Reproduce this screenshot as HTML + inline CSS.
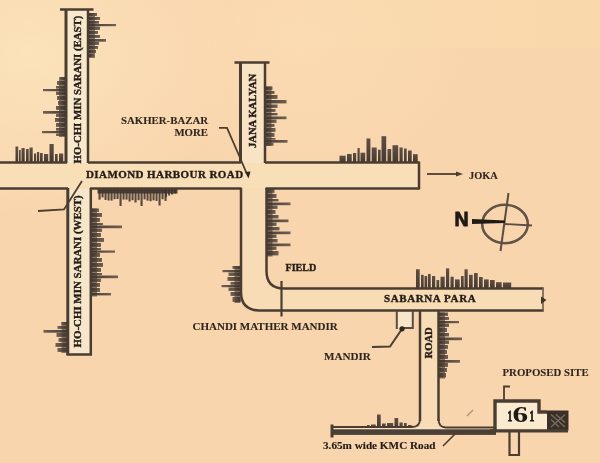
<!DOCTYPE html>
<html><head><meta charset="utf-8"><style>
html,body{margin:0;padding:0;}
body{width:600px;height:463px;overflow:hidden;background:#f6d3a9;}
svg{display:block;}
</style></head><body>
<svg width="600" height="463" viewBox="0 0 600 463">
<defs>
<filter id="bl" x="-5%" y="-5%" width="110%" height="110%"><feGaussianBlur stdDeviation="0.7"/></filter>
<linearGradient id="gr" x1="0" y1="0" x2="1" y2="0"><stop offset="0" stop-color="#3a3029"/><stop offset="0.5" stop-color="#4e423a"/><stop offset="1" stop-color="#63564b"/></linearGradient>
<linearGradient id="gl" x1="1" y1="0" x2="0" y2="0"><stop offset="0" stop-color="#3a3029"/><stop offset="0.5" stop-color="#4e423a"/><stop offset="1" stop-color="#63564b"/></linearGradient>
<linearGradient id="gv" x1="0" y1="1" x2="0" y2="0"><stop offset="0" stop-color="#3a3029"/><stop offset="1" stop-color="#554840"/></linearGradient>
<linearGradient id="topband" x1="0" y1="0" x2="1" y2="0"><stop offset="0.35" stop-color="#fadcb0" stop-opacity="0"/><stop offset="0.6" stop-color="#fadcb0" stop-opacity="0.7"/><stop offset="1" stop-color="#f9d9ab" stop-opacity="0.8"/></linearGradient>
<filter id="bl2"><feGaussianBlur stdDeviation="0.35"/></filter>
<radialGradient id="rg1" cx="0.05" cy="0.12" r="0.35"><stop offset="0" stop-color="#fbe3ba" stop-opacity="1"/><stop offset="1" stop-color="#fbe3ba" stop-opacity="0"/></radialGradient>
<radialGradient id="rg2" cx="0.5" cy="0.1" r="0.3"><stop offset="0" stop-color="#fbdcb3" stop-opacity="0.8"/><stop offset="1" stop-color="#fbdcb3" stop-opacity="0"/></radialGradient>
</defs>
<rect width="600" height="463" fill="#f9d5ad"/>
<rect width="600" height="463" fill="url(#rg1)"/>
<rect width="600" height="463" fill="url(#rg2)"/>
<rect x="0" y="0" width="600" height="48" fill="url(#topband)"/>
<rect x="0" y="163" width="419" height="26" fill="#f9dfb8"/>
<rect x="66" y="10" width="22" height="153" fill="#f8e8cc"/>
<rect x="68" y="189" width="22" height="165" fill="#f7e6c9"/>
<rect x="241" y="63" width="24" height="100" fill="#f8e4c4"/>
<path d="M241,188 L241,292 Q241,310 259,310 L543,310 L543,289 L284,289 Q266,289 266,271 L266,188 Z" stroke="#4a3e33" stroke-width="0" fill="#f8dcb5" />
<rect x="420" y="310" width="18" height="118" fill="#f8dcb5"/>
<rect x="331" y="427" width="165" height="3" fill="#f6e0be"/>
<g filter="url(#bl)">
<rect x="89.0" y="13.0" width="6" height="45.0" fill="#4a3f37" opacity="0.68"/>
<rect x="89.0" y="13.0" width="8.0" height="2.9" fill="url(#gr)" opacity="0.92"/>
<rect x="89.0" y="17.0" width="11.0" height="2.9" fill="url(#gr)" opacity="0.92"/>
<rect x="89.0" y="21.0" width="10.0" height="2.7" fill="url(#gr)" opacity="0.92"/>
<rect x="89.0" y="24.0" width="27.0" height="2.2" fill="url(#gr)" opacity="0.92"/>
<rect x="89.0" y="26.5" width="11.0" height="3.4" fill="url(#gr)" opacity="0.92"/>
<rect x="89.0" y="31.0" width="9.0" height="2.9" fill="url(#gr)" opacity="0.92"/>
<rect x="89.0" y="35.0" width="11.0" height="2.9" fill="url(#gr)" opacity="0.92"/>
<rect x="89.0" y="39.0" width="17.0" height="2.7" fill="url(#gr)" opacity="0.92"/>
<rect x="89.0" y="42.0" width="10.0" height="2.9" fill="url(#gr)" opacity="0.92"/>
<rect x="89.0" y="46.0" width="9.0" height="2.9" fill="url(#gr)" opacity="0.92"/>
<rect x="89.0" y="50.0" width="7.0" height="2.9" fill="url(#gr)" opacity="0.92"/>
<rect x="89.0" y="54.0" width="5.0" height="2.9" fill="url(#gr)" opacity="0.92"/>
<rect x="59.0" y="77.0" width="6" height="60.0" fill="#4a3f37" opacity="0.68"/>
<rect x="60.0" y="77.0" width="5.0" height="2.9" fill="url(#gl)" opacity="0.92"/>
<rect x="57.0" y="81.0" width="8.0" height="3.9" fill="url(#gl)" opacity="0.92"/>
<rect x="56.0" y="86.0" width="9.0" height="2.7" fill="url(#gl)" opacity="0.92"/>
<rect x="43.0" y="89.0" width="22.0" height="2.2" fill="url(#gl)" opacity="0.92"/>
<rect x="56.0" y="91.5" width="9.0" height="3.4" fill="url(#gl)" opacity="0.92"/>
<rect x="57.0" y="96.0" width="8.0" height="3.9" fill="url(#gl)" opacity="0.92"/>
<rect x="58.0" y="101.0" width="7.0" height="3.9" fill="url(#gl)" opacity="0.92"/>
<rect x="56.0" y="106.0" width="9.0" height="3.9" fill="url(#gl)" opacity="0.92"/>
<rect x="43.0" y="111.0" width="22.0" height="2.7" fill="url(#gl)" opacity="0.92"/>
<rect x="56.0" y="114.0" width="9.0" height="2.9" fill="url(#gl)" opacity="0.92"/>
<rect x="55.0" y="118.0" width="10.0" height="3.9" fill="url(#gl)" opacity="0.92"/>
<rect x="56.0" y="123.0" width="9.0" height="3.9" fill="url(#gl)" opacity="0.92"/>
<rect x="56.0" y="128.0" width="9.0" height="2.7" fill="url(#gl)" opacity="0.92"/>
<rect x="42.0" y="131.0" width="23.0" height="2.2" fill="url(#gl)" opacity="0.92"/>
<rect x="56.0" y="133.5" width="9.0" height="2.4" fill="url(#gl)" opacity="0.92"/>
<rect x="15.5" y="146.5" width="2.7" height="15.5" fill="url(#gv)" opacity="0.95"/>
<rect x="19.0" y="150.0" width="1.7" height="12.0" fill="url(#gv)" opacity="0.95"/>
<rect x="21.5" y="148.0" width="3.2" height="14.0" fill="url(#gv)" opacity="0.95"/>
<rect x="26.0" y="149.0" width="2.7" height="13.0" fill="url(#gv)" opacity="0.95"/>
<rect x="29.5" y="147.5" width="3.2" height="14.5" fill="url(#gv)" opacity="0.95"/>
<rect x="34.0" y="153.5" width="2.2" height="8.5" fill="url(#gv)" opacity="0.95"/>
<rect x="37.0" y="152.0" width="2.2" height="10.0" fill="url(#gv)" opacity="0.95"/>
<rect x="40.0" y="153.0" width="2.7" height="9.0" fill="url(#gv)" opacity="0.95"/>
<rect x="44.0" y="154.0" width="4.2" height="8.0" fill="url(#gv)" opacity="0.95"/>
<rect x="49.5" y="144.0" width="4.2" height="18.0" fill="url(#gv)" opacity="0.95"/>
<rect x="55.0" y="154.0" width="2.7" height="8.0" fill="url(#gv)" opacity="0.95"/>
<rect x="59.0" y="153.5" width="4.2" height="8.5" fill="url(#gv)" opacity="0.95"/>
<rect x="265.5" y="86.5" width="6" height="59.5" fill="#4a3f37" opacity="0.68"/>
<rect x="265.5" y="86.5" width="7.0" height="3.4" fill="url(#gr)" opacity="0.92"/>
<rect x="265.5" y="91.0" width="9.0" height="2.9" fill="url(#gr)" opacity="0.92"/>
<rect x="265.5" y="95.0" width="12.0" height="3.9" fill="url(#gr)" opacity="0.92"/>
<rect x="265.5" y="100.0" width="21.0" height="3.4" fill="url(#gr)" opacity="0.92"/>
<rect x="265.5" y="104.5" width="12.0" height="3.4" fill="url(#gr)" opacity="0.92"/>
<rect x="265.5" y="109.0" width="10.0" height="2.9" fill="url(#gr)" opacity="0.92"/>
<rect x="265.5" y="113.0" width="12.0" height="2.4" fill="url(#gr)" opacity="0.92"/>
<rect x="265.5" y="116.5" width="21.0" height="2.7" fill="url(#gr)" opacity="0.92"/>
<rect x="265.5" y="119.5" width="11.0" height="3.4" fill="url(#gr)" opacity="0.92"/>
<rect x="265.5" y="124.0" width="9.0" height="2.9" fill="url(#gr)" opacity="0.92"/>
<rect x="265.5" y="128.0" width="10.0" height="3.9" fill="url(#gr)" opacity="0.92"/>
<rect x="265.5" y="133.0" width="9.0" height="3.9" fill="url(#gr)" opacity="0.92"/>
<rect x="265.5" y="138.0" width="10.0" height="1.7" fill="url(#gr)" opacity="0.92"/>
<rect x="265.5" y="140.0" width="22.0" height="2.7" fill="url(#gr)" opacity="0.92"/>
<rect x="265.5" y="143.0" width="8.0" height="2.7" fill="url(#gr)" opacity="0.92"/>
<rect x="339.5" y="155.7" width="6.2" height="6.3" fill="url(#gv)" opacity="0.95"/>
<rect x="347.0" y="154.0" width="4.7" height="8.0" fill="url(#gv)" opacity="0.95"/>
<rect x="353.0" y="153.0" width="3.2" height="9.0" fill="url(#gv)" opacity="0.95"/>
<rect x="357.5" y="148.0" width="2.2" height="14.0" fill="url(#gv)" opacity="0.95"/>
<rect x="360.5" y="152.7" width="4.7" height="9.3" fill="url(#gv)" opacity="0.95"/>
<rect x="366.5" y="138.5" width="3.9" height="23.5" fill="url(#gv)" opacity="0.95"/>
<rect x="371.7" y="147.5" width="5.0" height="14.5" fill="url(#gv)" opacity="0.95"/>
<rect x="378.0" y="149.7" width="2.7" height="12.3" fill="url(#gv)" opacity="0.95"/>
<rect x="381.5" y="136.2" width="4.7" height="25.8" fill="url(#gv)" opacity="0.95"/>
<rect x="387.5" y="149.0" width="3.7" height="13.0" fill="url(#gv)" opacity="0.95"/>
<rect x="392.5" y="145.2" width="5.7" height="16.8" fill="url(#gv)" opacity="0.95"/>
<rect x="399.5" y="147.5" width="3.2" height="14.5" fill="url(#gv)" opacity="0.95"/>
<rect x="404.0" y="148.5" width="2.7" height="13.5" fill="url(#gv)" opacity="0.95"/>
<rect x="408.0" y="150.5" width="3.7" height="11.5" fill="url(#gv)" opacity="0.95"/>
<rect x="413.0" y="154.2" width="4.7" height="7.8" fill="url(#gv)" opacity="0.95"/>
<rect x="97.5" y="189.0" width="80.0" height="4.5" fill="#3f342c" opacity="0.9"/>
<rect x="98.5" y="189.0" width="2.1" height="10.6" fill="#3f342c" opacity="0.88"/>
<rect x="101.5" y="189.0" width="2.1" height="8.5" fill="#3f342c" opacity="0.88"/>
<rect x="104.5" y="189.0" width="2.1" height="10.9" fill="#3f342c" opacity="0.88"/>
<rect x="107.5" y="189.0" width="2.1" height="11.5" fill="#3f342c" opacity="0.88"/>
<rect x="110.5" y="189.0" width="2.1" height="11.6" fill="#3f342c" opacity="0.88"/>
<rect x="113.5" y="189.0" width="2.1" height="10.2" fill="#3f342c" opacity="0.88"/>
<rect x="116.5" y="189.0" width="2.1" height="10.0" fill="#3f342c" opacity="0.88"/>
<rect x="119.5" y="189.0" width="2.1" height="17.0" fill="#3f342c" opacity="0.88"/>
<rect x="122.5" y="189.0" width="2.1" height="10.6" fill="#3f342c" opacity="0.88"/>
<rect x="125.5" y="189.0" width="2.1" height="10.6" fill="#3f342c" opacity="0.88"/>
<rect x="128.5" y="189.0" width="2.1" height="12.5" fill="#3f342c" opacity="0.88"/>
<rect x="131.5" y="189.0" width="2.1" height="11.2" fill="#3f342c" opacity="0.88"/>
<rect x="134.5" y="189.0" width="2.1" height="13.5" fill="#3f342c" opacity="0.88"/>
<rect x="137.5" y="189.0" width="2.1" height="11.2" fill="#3f342c" opacity="0.88"/>
<rect x="140.5" y="189.0" width="2.1" height="17.0" fill="#3f342c" opacity="0.88"/>
<rect x="143.5" y="189.0" width="2.1" height="10.4" fill="#3f342c" opacity="0.88"/>
<rect x="146.5" y="189.0" width="2.1" height="11.6" fill="#3f342c" opacity="0.88"/>
<rect x="149.5" y="189.0" width="2.1" height="12.2" fill="#3f342c" opacity="0.88"/>
<rect x="152.5" y="189.0" width="2.1" height="11.3" fill="#3f342c" opacity="0.88"/>
<rect x="155.5" y="189.0" width="2.1" height="11.9" fill="#3f342c" opacity="0.88"/>
<rect x="158.5" y="189.0" width="2.1" height="16.5" fill="#3f342c" opacity="0.88"/>
<rect x="161.5" y="189.0" width="2.1" height="10.2" fill="#3f342c" opacity="0.88"/>
<rect x="164.5" y="189.0" width="2.1" height="11.9" fill="#3f342c" opacity="0.88"/>
<rect x="165.0" y="189.0" width="2.1" height="8.0" fill="#3f342c" opacity="0.85"/>
<rect x="168.0" y="189.0" width="2.1" height="6.5" fill="#3f342c" opacity="0.85"/>
<rect x="171.0" y="189.0" width="2.1" height="5.5" fill="#3f342c" opacity="0.85"/>
<rect x="174.0" y="189.0" width="2.1" height="4.5" fill="#3f342c" opacity="0.85"/>
<rect x="91.0" y="208.5" width="6" height="88.0" fill="#4a3f37" opacity="0.68"/>
<rect x="91.0" y="208.5" width="8.0" height="3.4" fill="url(#gr)" opacity="0.92"/>
<rect x="91.0" y="213.0" width="11.0" height="3.9" fill="url(#gr)" opacity="0.92"/>
<rect x="91.0" y="218.0" width="9.0" height="3.9" fill="url(#gr)" opacity="0.92"/>
<rect x="91.0" y="223.0" width="12.0" height="2.2" fill="url(#gr)" opacity="0.92"/>
<rect x="91.0" y="225.5" width="31.0" height="2.7" fill="url(#gr)" opacity="0.92"/>
<rect x="91.0" y="228.5" width="11.0" height="3.4" fill="url(#gr)" opacity="0.92"/>
<rect x="91.0" y="233.0" width="10.0" height="3.9" fill="url(#gr)" opacity="0.92"/>
<rect x="91.0" y="238.0" width="13.0" height="3.9" fill="url(#gr)" opacity="0.92"/>
<rect x="91.0" y="243.0" width="10.0" height="3.9" fill="url(#gr)" opacity="0.92"/>
<rect x="91.0" y="248.0" width="10.0" height="2.2" fill="url(#gr)" opacity="0.92"/>
<rect x="91.0" y="250.5" width="24.0" height="2.2" fill="url(#gr)" opacity="0.92"/>
<rect x="91.0" y="253.0" width="9.0" height="3.9" fill="url(#gr)" opacity="0.92"/>
<rect x="91.0" y="258.0" width="11.0" height="3.9" fill="url(#gr)" opacity="0.92"/>
<rect x="91.0" y="263.0" width="12.0" height="3.9" fill="url(#gr)" opacity="0.92"/>
<rect x="91.0" y="268.0" width="10.0" height="3.9" fill="url(#gr)" opacity="0.92"/>
<rect x="91.0" y="273.0" width="11.0" height="2.2" fill="url(#gr)" opacity="0.92"/>
<rect x="91.0" y="275.5" width="27.0" height="2.7" fill="url(#gr)" opacity="0.92"/>
<rect x="91.0" y="278.5" width="10.0" height="3.4" fill="url(#gr)" opacity="0.92"/>
<rect x="91.0" y="283.0" width="9.0" height="3.9" fill="url(#gr)" opacity="0.92"/>
<rect x="91.0" y="288.0" width="9.0" height="3.9" fill="url(#gr)" opacity="0.92"/>
<rect x="91.0" y="293.0" width="20.0" height="2.4" fill="url(#gr)" opacity="0.92"/>
<rect x="61.5" y="322.0" width="6" height="31.0" fill="#4a3f37" opacity="0.68"/>
<rect x="61.5" y="322.0" width="6.0" height="2.9" fill="url(#gl)" opacity="0.92"/>
<rect x="57.5" y="326.0" width="10.0" height="2.9" fill="url(#gl)" opacity="0.92"/>
<rect x="43.5" y="330.0" width="24.0" height="2.7" fill="url(#gl)" opacity="0.92"/>
<rect x="56.5" y="333.0" width="11.0" height="3.9" fill="url(#gl)" opacity="0.92"/>
<rect x="58.5" y="338.0" width="9.0" height="3.9" fill="url(#gl)" opacity="0.92"/>
<rect x="55.5" y="343.0" width="12.0" height="3.9" fill="url(#gl)" opacity="0.92"/>
<rect x="57.5" y="348.0" width="10.0" height="3.9" fill="url(#gl)" opacity="0.92"/>
<rect x="266.5" y="189.0" width="6" height="67.5" fill="#4a3f37" opacity="0.68"/>
<rect x="266.5" y="189.0" width="8.0" height="3.9" fill="url(#gr)" opacity="0.92"/>
<rect x="266.5" y="194.0" width="10.0" height="3.9" fill="url(#gr)" opacity="0.92"/>
<rect x="266.5" y="199.0" width="12.0" height="2.4" fill="url(#gr)" opacity="0.92"/>
<rect x="266.5" y="202.5" width="24.0" height="2.7" fill="url(#gr)" opacity="0.92"/>
<rect x="266.5" y="205.5" width="11.0" height="3.4" fill="url(#gr)" opacity="0.92"/>
<rect x="266.5" y="210.0" width="9.0" height="3.9" fill="url(#gr)" opacity="0.92"/>
<rect x="266.5" y="215.0" width="12.0" height="3.4" fill="url(#gr)" opacity="0.92"/>
<rect x="266.5" y="219.5" width="22.0" height="2.7" fill="url(#gr)" opacity="0.92"/>
<rect x="266.5" y="222.5" width="10.0" height="3.4" fill="url(#gr)" opacity="0.92"/>
<rect x="266.5" y="227.0" width="13.0" height="3.4" fill="url(#gr)" opacity="0.92"/>
<rect x="266.5" y="231.5" width="24.0" height="2.7" fill="url(#gr)" opacity="0.92"/>
<rect x="266.5" y="234.5" width="10.0" height="3.4" fill="url(#gr)" opacity="0.92"/>
<rect x="266.5" y="239.0" width="11.0" height="3.4" fill="url(#gr)" opacity="0.92"/>
<rect x="266.5" y="243.5" width="24.0" height="2.7" fill="url(#gr)" opacity="0.92"/>
<rect x="266.5" y="246.5" width="10.0" height="3.4" fill="url(#gr)" opacity="0.92"/>
<rect x="266.5" y="251.0" width="12.0" height="4.4" fill="url(#gr)" opacity="0.92"/>
<rect x="234.5" y="266.0" width="6" height="37.0" fill="#4a3f37" opacity="0.68"/>
<rect x="232.5" y="266.0" width="8.0" height="2.9" fill="url(#gl)" opacity="0.92"/>
<rect x="222.5" y="270.0" width="18.0" height="2.2" fill="url(#gl)" opacity="0.92"/>
<rect x="228.5" y="272.5" width="12.0" height="3.4" fill="url(#gl)" opacity="0.92"/>
<rect x="227.5" y="277.0" width="13.0" height="3.9" fill="url(#gl)" opacity="0.92"/>
<rect x="230.5" y="282.0" width="10.0" height="2.7" fill="url(#gl)" opacity="0.92"/>
<rect x="221.5" y="285.0" width="19.0" height="2.2" fill="url(#gl)" opacity="0.92"/>
<rect x="228.5" y="287.5" width="12.0" height="3.4" fill="url(#gl)" opacity="0.92"/>
<rect x="230.5" y="292.0" width="10.0" height="3.9" fill="url(#gl)" opacity="0.92"/>
<rect x="232.5" y="297.0" width="8.0" height="4.9" fill="url(#gl)" opacity="0.92"/>
<rect x="416.0" y="269.3" width="3.7" height="19.2" fill="url(#gv)" opacity="0.95"/>
<rect x="421.0" y="274.8" width="2.7" height="13.7" fill="url(#gv)" opacity="0.95"/>
<rect x="424.5" y="276.0" width="2.7" height="12.5" fill="url(#gv)" opacity="0.95"/>
<rect x="428.0" y="274.0" width="2.7" height="14.5" fill="url(#gv)" opacity="0.95"/>
<rect x="432.0" y="276.0" width="3.2" height="12.5" fill="url(#gv)" opacity="0.95"/>
<rect x="436.5" y="280.0" width="2.7" height="8.5" fill="url(#gv)" opacity="0.95"/>
<rect x="440.5" y="276.7" width="4.2" height="11.8" fill="url(#gv)" opacity="0.95"/>
<rect x="446.0" y="268.4" width="3.2" height="20.1" fill="url(#gv)" opacity="0.95"/>
<rect x="450.5" y="276.7" width="3.2" height="11.8" fill="url(#gv)" opacity="0.95"/>
<rect x="455.0" y="279.4" width="4.7" height="9.1" fill="url(#gv)" opacity="0.95"/>
<rect x="461.0" y="276.0" width="2.7" height="12.5" fill="url(#gv)" opacity="0.95"/>
<rect x="464.5" y="269.3" width="3.2" height="19.2" fill="url(#gv)" opacity="0.95"/>
<rect x="469.0" y="274.8" width="3.7" height="13.7" fill="url(#gv)" opacity="0.95"/>
<rect x="474.0" y="273.0" width="3.7" height="15.5" fill="url(#gv)" opacity="0.95"/>
<rect x="479.0" y="277.0" width="3.7" height="11.5" fill="url(#gv)" opacity="0.95"/>
<rect x="484.0" y="279.4" width="4.7" height="9.1" fill="url(#gv)" opacity="0.95"/>
<rect x="490.0" y="280.0" width="4.7" height="8.5" fill="url(#gv)" opacity="0.95"/>
<rect x="496.0" y="282.2" width="5.7" height="6.3" fill="url(#gv)" opacity="0.95"/>
<rect x="503.0" y="282.5" width="8.2" height="6.0" fill="url(#gv)" opacity="0.95"/>
<rect x="439.0" y="312.5" width="6" height="66.0" fill="#4a3f37" opacity="0.68"/>
<rect x="439.0" y="312.5" width="9.0" height="3.4" fill="url(#gr)" opacity="0.92"/>
<rect x="439.0" y="317.0" width="10.0" height="2.9" fill="url(#gr)" opacity="0.92"/>
<rect x="439.0" y="321.0" width="20.0" height="2.2" fill="url(#gr)" opacity="0.92"/>
<rect x="439.0" y="323.5" width="10.0" height="3.4" fill="url(#gr)" opacity="0.92"/>
<rect x="439.0" y="328.0" width="8.0" height="3.9" fill="url(#gr)" opacity="0.92"/>
<rect x="439.0" y="333.0" width="10.0" height="3.4" fill="url(#gr)" opacity="0.92"/>
<rect x="439.0" y="337.5" width="23.0" height="2.7" fill="url(#gr)" opacity="0.92"/>
<rect x="439.0" y="340.5" width="10.0" height="3.4" fill="url(#gr)" opacity="0.92"/>
<rect x="439.0" y="345.0" width="9.0" height="3.9" fill="url(#gr)" opacity="0.92"/>
<rect x="439.0" y="350.0" width="8.0" height="3.9" fill="url(#gr)" opacity="0.92"/>
<rect x="439.0" y="355.0" width="9.0" height="3.9" fill="url(#gr)" opacity="0.92"/>
<rect x="439.0" y="360.0" width="21.0" height="2.7" fill="url(#gr)" opacity="0.92"/>
<rect x="439.0" y="363.0" width="9.0" height="3.9" fill="url(#gr)" opacity="0.92"/>
<rect x="439.0" y="368.0" width="8.0" height="3.9" fill="url(#gr)" opacity="0.92"/>
<rect x="439.0" y="373.0" width="7.0" height="4.4" fill="url(#gr)" opacity="0.92"/>
<rect x="367.0" y="425.0" width="2.7" height="3.0" fill="url(#gv)" opacity="0.95"/>
<rect x="371.0" y="424.5" width="4.7" height="3.5" fill="url(#gv)" opacity="0.95"/>
<rect x="377.0" y="414.5" width="3.7" height="13.5" fill="url(#gv)" opacity="0.95"/>
<rect x="382.0" y="423.5" width="3.7" height="4.5" fill="url(#gv)" opacity="0.95"/>
<rect x="387.0" y="423.0" width="6.2" height="5.0" fill="url(#gv)" opacity="0.95"/>
<rect x="394.5" y="418.0" width="3.7" height="10.0" fill="url(#gv)" opacity="0.95"/>
<rect x="399.5" y="422.5" width="3.2" height="5.5" fill="url(#gv)" opacity="0.95"/>
<rect x="404.0" y="423.0" width="2.7" height="5.0" fill="url(#gv)" opacity="0.95"/>
<rect x="408.0" y="425.0" width="3.7" height="3.0" fill="url(#gv)" opacity="0.95"/>
</g>
<g filter="url(#bl2)">
<line x1="66" y1="9" x2="66" y2="163" stroke="#4a3e33" stroke-width="3"/>
<line x1="88" y1="9" x2="88" y2="163" stroke="#4a3e33" stroke-width="2.5"/>
<line x1="60" y1="9.5" x2="93.5" y2="9.5" stroke="#4a3e33" stroke-width="2.5"/>
<line x1="0" y1="162.5" x2="67" y2="162.5" stroke="#4a3e33" stroke-width="2.5"/>
<line x1="88" y1="162.5" x2="241" y2="162.5" stroke="#4a3e33" stroke-width="2.5"/>
<line x1="265" y1="162.5" x2="419" y2="162.5" stroke="#4a3e33" stroke-width="2.5"/>
<line x1="0" y1="188.5" x2="68" y2="188.5" stroke="#4a3e33" stroke-width="2.5"/>
<line x1="90" y1="188.5" x2="241.5" y2="188.5" stroke="#4a3e33" stroke-width="2.5"/>
<line x1="265.5" y1="188.5" x2="419" y2="188.5" stroke="#4a3e33" stroke-width="2.5"/>
<line x1="419" y1="161.5" x2="419" y2="189.5" stroke="#4a3e33" stroke-width="2.5"/>
<line x1="67.8" y1="188" x2="67.8" y2="355" stroke="#4a3e33" stroke-width="3"/>
<line x1="90.8" y1="188" x2="90.8" y2="355" stroke="#4a3e33" stroke-width="2.5"/>
<line x1="66.5" y1="354.5" x2="92" y2="354.5" stroke="#4a3e33" stroke-width="2.5"/>
<line x1="234.5" y1="62.5" x2="269.5" y2="62.5" stroke="#4a3e33" stroke-width="2.5"/>
<line x1="240.5" y1="62" x2="240.5" y2="163" stroke="#4a3e33" stroke-width="3"/>
<line x1="265" y1="62" x2="265" y2="163" stroke="#4a3e33" stroke-width="2.5"/>
<path d="M241,188 L241,292 Q241,310 259,310.5 L543.5,310.5" stroke="#4a3e33" stroke-width="2.5" fill="none" />
<path d="M266.5,188 L266.5,271 Q266.5,288.5 284,288.5 L543.5,288.5" stroke="#4a3e33" stroke-width="2.5" fill="none" />
<path d="M543,287.5 L543,311.5" stroke="#6e5e50" stroke-width="1.6" fill="none" />
<path d="M541,296.5 L546.5,300 L541,304 Z" stroke="#4a3e33" stroke-width="0" fill="#3e342c" />
<line x1="420" y1="310" x2="420" y2="421" stroke="#4a3e33" stroke-width="2.5"/>
<line x1="438.5" y1="310" x2="438.5" y2="421" stroke="#4a3e33" stroke-width="2.5"/>
<path d="M420,419 Q420,427 412,427 L331,427" stroke="#4a3e33" stroke-width="1.8" fill="none" />
<path d="M438.5,419 Q438.5,427.5 446,427.5 L494,427.5" stroke="#4a3e33" stroke-width="1.8" fill="none" />
<rect x="331" y="429.3" width="165" height="5.6" fill="#4c4037"/>
<line x1="332" y1="424.5" x2="332" y2="437.5" stroke="#4a3e33" stroke-width="3"/>
</g>
<path d="M219,127.8 L227,127.8 L241,160 L246.5,173" stroke="#4a3e33" stroke-width="1.8" fill="none" />
<path d="M245,172 L248.5,178.5 L250.5,171.5 Z" stroke="#4a3e33" stroke-width="0" fill="#2e261f" />
<path d="M38,211 L64,209.5 L82,181" stroke="#4a3e33" stroke-width="1.8" fill="none" />
<line x1="427" y1="174" x2="458" y2="174" stroke="#4a3e33" stroke-width="1.8"/>
<path d="M456,171.5 L463,174 L456,176.5 Z" stroke="#4a3e33" stroke-width="0" fill="#4a3e33" />
<line x1="281.5" y1="281" x2="281.5" y2="316.5" stroke="#4a3e33" stroke-width="2.2"/>
<rect x="397.5" y="312" width="15" height="16" fill="#f8e6cc"/>
<path d="M396.8,329 L396.8,311 M412.8,311 L412.8,328 L402,328" stroke="#5a4d42" stroke-width="2.0" fill="none" />
<path d="M372,347 L390,346.5 L402,329" stroke="#4a3e33" stroke-width="2.0" fill="none" />
<circle cx="402" cy="328.8" r="2.6" fill="#2e2620"/>
<line x1="443" y1="446" x2="457" y2="432" stroke="#4a3e33" stroke-width="1.6"/>
<path d="M510,386.5 L504,386.5 L504,400" stroke="#4a3e33" stroke-width="1.8" fill="none" />
<line x1="467" y1="416" x2="473" y2="410" stroke="#b89878" stroke-width="1.6"/>
<rect x="496" y="402" width="42" height="27" fill="#f9ead0"/>
<rect x="536" y="413" width="11" height="16" fill="#f9ead0"/>
<path d="M495,430 L495,401 L539,401 L539,412 L547,412" stroke="#4a3e33" stroke-width="3.4" fill="none" />
<rect x="547.0" y="410.5" width="21.5" height="20.0" fill="#3a3029" opacity="1"/>
<path d="M551,414.5 L565,427 M556,414.5 L565,422.5 M551,419.5 L559,427 M565,414.5 L551,427" stroke="#8c8273" stroke-width="1.3" opacity="0.75"/>
<line x1="490" y1="430.8" x2="568" y2="430.8" stroke="#4a3e33" stroke-width="3.2"/>
<path d="M509.5,432 L509.5,455 L519,455 L519,432" stroke="#4a3e33" stroke-width="2.2" fill="none" />
<ellipse cx="505" cy="224" rx="22.8" ry="19.2" fill="none" stroke="#615346" stroke-width="2.6"/>
<line x1="508.5" y1="193" x2="500.5" y2="251" stroke="#5a4e44" stroke-width="2.0"/>
<line x1="505" y1="224" x2="532" y2="225.5" stroke="#5a4e44" stroke-width="1.8"/>
<path d="M472,219 L505,220.5 L505,223 L472,224 Z" fill="#1e1a16"/>
<text x="454.5" y="226.3" font-family="Liberation Sans" font-weight="bold" font-size="19.5" fill="#1e1a16" stroke="#1e1a16" stroke-width="0.9">N</text>
<g filter="url(#bl2)">
<text x="86" y="177.9" font-family="Liberation Serif" font-weight="bold" font-size="11" letter-spacing="0.42" fill="#221c17" stroke="#221c17" stroke-width="0.35" text-anchor="start" >DIAMOND HARBOUR ROAD</text>
<text x="81" y="163.5" font-family="Liberation Serif" font-weight="bold" font-size="10.8" letter-spacing="0" fill="#221c17" stroke="#221c17" stroke-width="0.35" text-anchor="start" transform="rotate(-90 81 163.5)" >HO-CHI MIN SARANI (EAST)</text>
<text x="80.8" y="347.5" font-family="Liberation Serif" font-weight="bold" font-size="10.9" letter-spacing="0" fill="#221c17" stroke="#221c17" stroke-width="0.35" text-anchor="start" transform="rotate(-90 80.8 347.5)" >HO-CHI MIN SARANI (WEST)</text>
<text x="256" y="148" font-family="Liberation Serif" font-weight="bold" font-size="10.6" letter-spacing="0" fill="#221c17" stroke="#221c17" stroke-width="0.35" text-anchor="start" transform="rotate(-90 256 148)" >JANA KALYAN</text>
<text x="121" y="124" font-family="Liberation Serif" font-weight="bold" font-size="10.8" letter-spacing="0" fill="#2e261f" stroke="#2e261f" stroke-width="0.1" text-anchor="start" >SAKHER-BAZAR</text>
<text x="208" y="136" font-family="Liberation Serif" font-weight="bold" font-size="10.8" letter-spacing="0" fill="#2e261f" stroke="#2e261f" stroke-width="0.1" text-anchor="end" >MORE</text>
<text x="469" y="179" font-family="Liberation Serif" font-weight="bold" font-size="10.4" letter-spacing="0" fill="#2e261f" stroke="#2e261f" stroke-width="0.1" text-anchor="start" >JOKA</text>
<text x="285.5" y="271" font-family="Liberation Serif" font-weight="bold" font-size="10.1" letter-spacing="0" fill="#221c17" stroke="#221c17" stroke-width="0.35" text-anchor="start" >FIELD</text>
<text x="192.5" y="330" font-family="Liberation Serif" font-weight="bold" font-size="11" letter-spacing="0" fill="#2e261f" stroke="#2e261f" stroke-width="0.1" text-anchor="start" >CHANDI MATHER MANDIR</text>
<text x="384" y="302" font-family="Liberation Serif" font-weight="bold" font-size="11" letter-spacing="0.6" fill="#221c17" stroke="#221c17" stroke-width="0.35" text-anchor="start" >SABARNA PARA</text>
<text x="324" y="359.5" font-family="Liberation Serif" font-weight="bold" font-size="11.1" letter-spacing="0" fill="#2e261f" stroke="#2e261f" stroke-width="0.1" text-anchor="start" >MANDIR</text>
<text x="432.3" y="358.5" font-family="Liberation Serif" font-weight="bold" font-size="10.6" letter-spacing="0" fill="#221c17" stroke="#221c17" stroke-width="0.35" text-anchor="start" transform="rotate(-90 432.3 358.5)" >ROAD</text>
<text x="502.5" y="376.3" font-family="Liberation Serif" font-weight="bold" font-size="10.8" letter-spacing="0" fill="#2e261f" stroke="#2e261f" stroke-width="0.1" text-anchor="start" >PROPOSED SITE</text>
<text x="323" y="449.3" font-family="Liberation Serif" font-weight="bold" font-size="11.2" letter-spacing="0" fill="#221c17" stroke="#221c17" stroke-width="0.15" text-anchor="start" >3.65m wide KMC Road</text>
<text transform="translate(507.4 421.3) scale(0.62 1)" font-family="Liberation Serif" font-weight="bold" font-size="15.5" fill="#1e1a16" stroke="#1e1a16" stroke-width="0.9">1</text>
<text transform="translate(512.4 422) scale(1.3 1)" font-family="Liberation Serif" font-weight="bold" font-size="24" fill="#1e1a16">6</text>
<text transform="translate(529.6 421.3) scale(0.62 1)" font-family="Liberation Serif" font-weight="bold" font-size="15.5" fill="#1e1a16" stroke="#1e1a16" stroke-width="0.9">1</text>
</g>
</svg>
</body></html>
